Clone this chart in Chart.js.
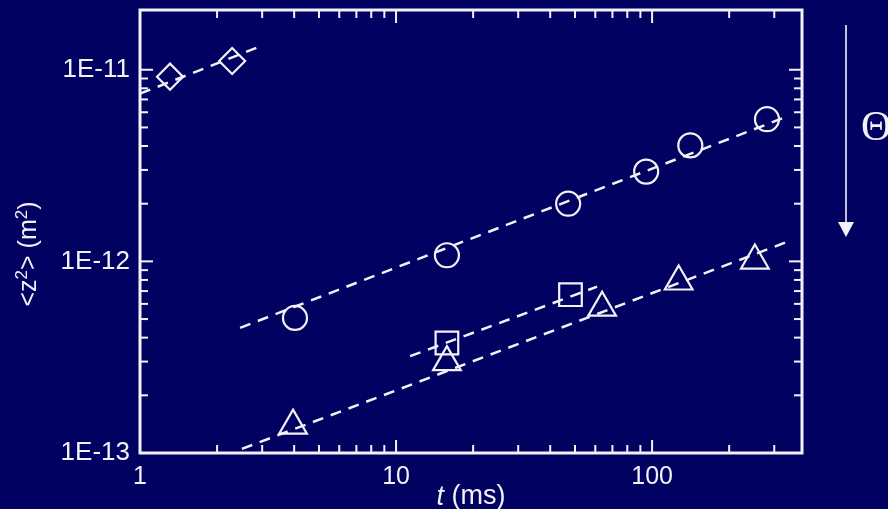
<!DOCTYPE html>
<html>
<head>
<meta charset="utf-8">
<script src="https://cdn.jsdelivr.net/npm/chart.js@4/dist/chart.umd.min.js"></script>
<style>
  body { margin: 0; background: #010162; }
  #wrap { width: 888px; height: 509px; }
</style>
</head>
<body>
<div id="wrap"><canvas id="msd-chart" width="888" height="509"></canvas></div>
<script>
// Mean square displacement <z^2> vs lag time t, one series per coverage
const diamondT = [1.31, 2.29];
const diamondZ = [9.2e-12, 1.11e-11];
const circleT = [4.03, 15.8, 47, 94.8, 141, 281];
const circleZ = [5.07e-13, 1.076e-12, 2.0e-12, 2.94e-12, 4.03e-12, 5.52e-12];
const squareT = [15.8, 48];
const squareZ = [3.75e-13, 6.7e-13];
const triangleT = [3.96, 15.8, 63.8, 127, 252];
const triangleZ = [1.39e-13, 2.98e-13, 5.73e-13, 7.85e-13, 1.01e-12];

// dashed fit lines (start / end)
const fitDiamondT = [1, 2.89];
const fitDiamondZ = [7.5e-12, 1.31e-11];
const fitCircleT = [2.46, 340];
const fitCircleZ = [4.5e-13, 5.73e-12];
const fitSquareT = [11.35, 61];
const fitSquareZ = [3.2e-13, 7.38e-13];
const fitTriangleT = [2.5, 340];
const fitTriangleZ = [1.05e-13, 1.27e-12];

// axis ticks
const xMajor = [1, 10, 100];
const xMinor = [2, 3, 4, 5, 6, 7, 8, 9, 20, 30, 40, 50, 60, 70, 80, 90, 200, 300];
const yMajor = [1e-13, 1e-12, 1e-11];
const yMinor = [2e-13, 3e-13, 4e-13, 5e-13, 6e-13, 7e-13, 8e-13, 9e-13,
                2e-12, 3e-12, 4e-12, 5e-12, 6e-12, 7e-12, 8e-12, 9e-12];

const ink = "#f2f2f6";
const fontFamily = "'Liberation Sans', Arial, sans-serif";

const pts = (ts, zs) => ts.map((t, i) => ({ x: t, y: zs[i] }));

const fitLine = (ts, zs) => ({
    type: "line",
    data: pts(ts, zs),
    borderColor: ink,
    borderWidth: 2.5,
    borderDash: [11, 8],
    pointRadius: 0,
    fill: false,
});

const marks = (ts, zs, style, r) => ({
    type: "scatter",
    data: pts(ts, zs),
    pointStyle: style,
    pointRadius: r,
    pointBorderWidth: 2.2,
    borderColor: ink,
    backgroundColor: "transparent",
});

// frame, inward ticks, axis titles and the arrow on the right
const framePlugin = {
    id: "frame",
    afterDatasetsDraw(chart) {
        const { ctx, chartArea: a } = chart;
        const sx = chart.scales.x;
        const sy = chart.scales.y;
        ctx.save();
        ctx.strokeStyle = ink;
        ctx.fillStyle = ink;
        ctx.lineWidth = 3;
        ctx.strokeRect(a.left, a.top, a.right - a.left, a.bottom - a.top);

        ctx.lineWidth = 2;
        const seg = (x1, y1, x2, y2) => {
            ctx.beginPath();
            ctx.moveTo(x1, y1);
            ctx.lineTo(x2, y2);
            ctx.stroke();
        };
        xMajor.concat(xMinor).forEach((v) => {
            if (v < sx.min || v > sx.max) return;
            const px = sx.getPixelForValue(v);
            const len = xMajor.includes(v) ? 13 : 8;
            seg(px, a.bottom, px, a.bottom - len);
            seg(px, a.top, px, a.top + len);
        });
        yMajor.concat(yMinor).forEach((v) => {
            if (v < sy.min || v > sy.max) return;
            const py = sy.getPixelForValue(v);
            const len = yMajor.includes(v) ? 13 : 8;
            seg(a.left, py, a.left + len, py);
            seg(a.right, py, a.right - len, py);
        });

        // x title: italic t (ms)
        ctx.textBaseline = "middle";
        ctx.textAlign = "left";
        ctx.font = "italic 27px " + fontFamily;
        const tW = ctx.measureText("t").width;
        ctx.font = "27px " + fontFamily;
        const msW = ctx.measureText(" (ms)").width;
        let x0 = 471 - (tW + msW) / 2;
        ctx.font = "italic 27px " + fontFamily;
        ctx.fillText("t", x0, 497);
        ctx.font = "27px " + fontFamily;
        ctx.fillText(" (ms)", x0 + tW, 497);

        // y title: <z2> (m2) with superscripts
        const parts = [["<z", false], ["2", true], ["> (m", false], ["2", true], [")", false]];
        const fs = (sup) => (sup ? "17px " : "25px ") + fontFamily;
        let total = 0;
        parts.forEach(([s, sup]) => {
            ctx.font = fs(sup);
            total += ctx.measureText(s).width;
        });
        ctx.translate(29, 254);
        ctx.rotate(-Math.PI / 2);
        let cx = -total / 2;
        parts.forEach(([s, sup]) => {
            ctx.font = fs(sup);
            ctx.fillText(s, cx, sup ? -7 : 0);
            cx += ctx.measureText(s).width;
        });
        ctx.setTransform(1, 0, 0, 1, 0, 0);

        // arrow and Theta label
        ctx.lineWidth = 1.6;
        seg(846, 25, 846, 224);
        ctx.beginPath();
        ctx.moveTo(838, 222);
        ctx.lineTo(854, 222);
        ctx.lineTo(846, 237);
        ctx.closePath();
        ctx.fill();
        ctx.font = "42px 'Liberation Serif', 'DejaVu Serif', serif";
        ctx.textBaseline = "alphabetic";
        ctx.fillText("\u0398", 861, 140);
        ctx.restore();
    },
};

const msdChart = new Chart(document.getElementById("msd-chart"), {
    data: {
        datasets: [
            fitLine(fitDiamondT, fitDiamondZ),
            fitLine(fitCircleT, fitCircleZ),
            fitLine(fitSquareT, fitSquareZ),
            fitLine(fitTriangleT, fitTriangleZ),
            marks(diamondT, diamondZ, "rectRot", 13),
            marks(circleT, circleZ, "circle", 12),
            marks(squareT, squareZ, "rect", 16),
            marks(triangleT, triangleZ, "triangle", 16),
        ],
    },
    options: {
        responsive: false,
        animation: false,
        layout: { autoPadding: false, padding: { top: 10, right: 86, left: 0, bottom: 0 } },
        plugins: { legend: { display: false }, tooltip: { enabled: false } },
        scales: {
            x: {
                type: "logarithmic",
                min: 1,
                max: 385,
                grid: { display: false, drawTicks: false },
                border: { display: false },
                afterBuildTicks: (s) => {
                    s.ticks = xMajor.concat(xMinor).sort((p, q) => p - q).map((v) => ({ value: v }));
                },
                afterFit: (s) => {
                    s.height = 56;
                    s.paddingLeft = 0;
                    s.paddingRight = 0;
                },
                ticks: {
                    autoSkip: false,
                    maxRotation: 0,
                    padding: 9,
                    color: ink,
                    font: { family: fontFamily, size: 25 },
                    callback: (v) => (xMajor.includes(v) ? String(v) : ""),
                },
            },
            y: {
                type: "logarithmic",
                min: 1e-13,
                max: 2.05e-11,
                grid: { display: false, drawTicks: false },
                border: { display: false },
                afterBuildTicks: (s) => {
                    s.ticks = yMajor.concat(yMinor).sort((p, q) => p - q).map((v) => ({ value: v }));
                },
                afterFit: (s) => {
                    s.width = 140;
                    s.paddingTop = 0;
                    s.paddingBottom = 0;
                },
                ticks: {
                    autoSkip: false,
                    padding: 10,
                    color: ink,
                    font: { family: fontFamily, size: 26 },
                    callback: (v) => (yMajor.includes(v) ? "1E" + Math.round(Math.log10(v)) : ""),
                },
            },
        },
    },
    plugins: [framePlugin],
});
</script>
</body>
</html>
